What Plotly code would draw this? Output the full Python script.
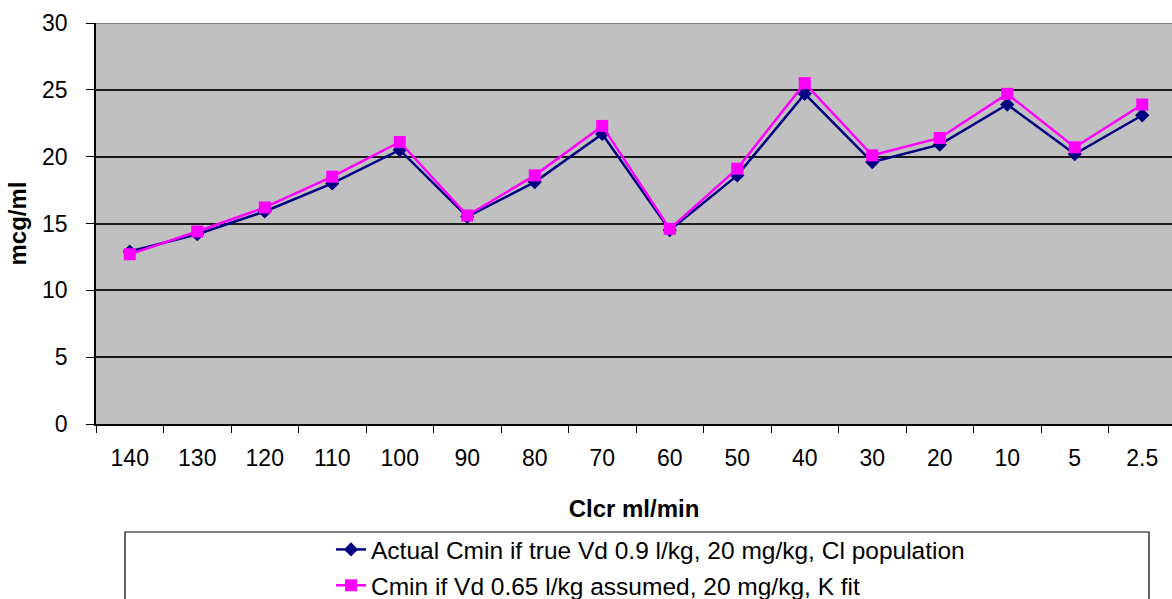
import plotly.graph_objects as go

# Creatinine clearance categories (ml/min)
clcr = ["140", "130", "120", "110", "100", "90", "80", "70", "60", "50",
        "40", "30", "20", "10", "5", "2.5"]

# Trough concentrations (mcg/ml)
actual_cmin = [12.9, 14.2, 15.9, 18.0, 20.5, 15.5, 18.1, 21.7, 14.5, 18.6,
               24.7, 19.6, 20.9, 23.9, 20.2, 23.1]
assumed_cmin = [12.7, 14.4, 16.2, 18.5, 21.1, 15.6, 18.6, 22.3, 14.6, 19.1,
                25.5, 20.1, 21.4, 24.7, 20.7, 23.9]

name_actual = "Actual Cmin if true Vd 0.9 l/kg, 20 mg/kg, Cl population"
name_assumed = "Cmin if Vd 0.65 l/kg assumed, 20 mg/kg, K fit"

W, H = 1172, 599
ML, MR, MT, MB = 96, 0, 23, 175
plot_w = W - ML - MR
plot_h = H - MT - MB
cat_px = 67.5  # width of one category slot

FONT = "Liberation Sans, Arial, sans-serif"


def px_to_paper_y(py):
    """Convert a pixel row (from top of page) to paper y."""
    return (H - MB - py) / plot_h


fig = go.Figure()
fig.add_trace(go.Scatter(
    x=clcr, y=actual_cmin, name=name_actual, mode="lines+markers",
    line=dict(color="#000080", width=2.5),
    marker=dict(symbol="diamond", size=11, color="#000080"),
    legendgroup="a",
))
fig.add_trace(go.Scatter(
    x=clcr, y=assumed_cmin, name=name_assumed, mode="lines+markers",
    line=dict(color="#FF00FF", width=2.5),
    marker=dict(symbol="square", size=12, color="#FF00FF"),
    legendgroup="b",
))

# Legend frame
fig.add_shape(type="rect", xref="paper", yref="paper",
              x0=(125 - ML) / plot_w, x1=(1149 - ML) / plot_w,
              y0=px_to_paper_y(650), y1=px_to_paper_y(532),
              line=dict(color="black", width=1.2), fillcolor="white", layer="below")

# Top border of the plot area
fig.add_shape(type="line", xref="paper", yref="y", x0=0, x1=1, y0=30, y1=30,
              line=dict(color="#808080", width=2), layer="above")

fig.update_layout(
    width=W, height=H,
    margin=dict(l=ML, r=MR, t=MT, b=MB, pad=0, autoexpand=False),
    paper_bgcolor="white", plot_bgcolor="#C0C0C0",
    font=dict(family=FONT, size=23, color="black"),
    showlegend=True,
    legend=dict(
        x=(331 - ML) / plot_w, y=px_to_paper_y(527),
        xanchor="left", yanchor="top",
        bgcolor="rgba(0,0,0,0)", borderwidth=0,
        font=dict(family=FONT, size=24.5), tracegroupgap=1,
    ),
    xaxis=dict(
        type="category", categoryorder="array", categoryarray=clcr,
        range=[-0.5, -0.5 + plot_w / cat_px],
        showgrid=False, zeroline=False,
        showline=True, linecolor="black", linewidth=1.5,
        ticks="outside", ticklen=7, tickwidth=1.2, tickcolor="black",
        tickson="boundaries", ticklabelstandoff=13,
        tickfont=dict(size=23),
        title=dict(text="<b>Clcr ml/min</b>", font=dict(size=24), standoff=30),
    ),
    yaxis=dict(
        range=[0, 30], tickvals=[0, 5, 10, 15, 20, 25, 30],
        showgrid=True, gridcolor="#1a1a1a", gridwidth=1.5,
        zeroline=False,
        showline=True, linecolor="black", linewidth=1.5,
        ticks="outside", ticklen=8, tickwidth=1.2, tickcolor="black",
        ticklabelstandoff=14,
        tickfont=dict(size=23),
        title=dict(text="<b>mcg/ml</b>", font=dict(size=24), standoff=9),
    ),
)

fig.write_html("out.html")
